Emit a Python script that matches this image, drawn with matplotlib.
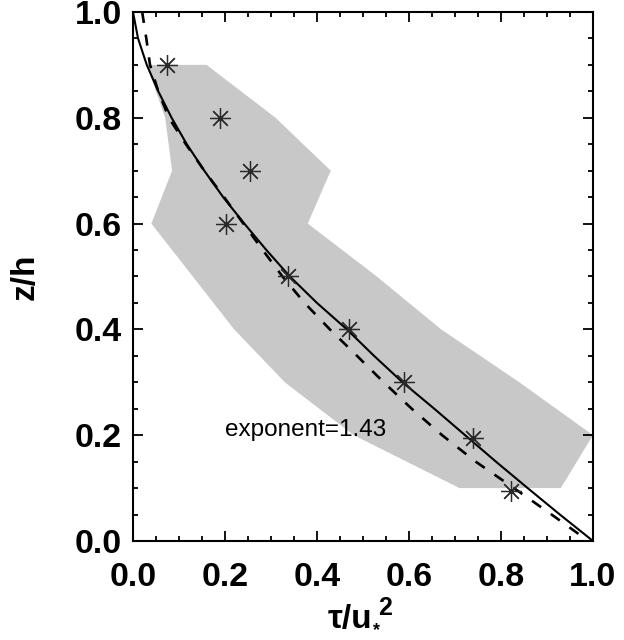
import matplotlib
matplotlib.use('Agg')
import matplotlib.pyplot as plt
from matplotlib.ticker import MultipleLocator, FormatStrFormatter

# measured stress profile (stars)
z_obs = [0.9, 0.8, 0.7, 0.6, 0.5, 0.4, 0.3, 0.195, 0.095]
tau_obs = [0.075, 0.19, 0.255, 0.203, 0.337, 0.47, 0.59, 0.74, 0.822]

# spread of the individual profiles at each level
band_z = [0.9, 0.8, 0.7, 0.6, 0.5, 0.4, 0.3, 0.2, 0.1]
band_lo = [0.03, 0.07, 0.085, 0.04, 0.13, 0.22, 0.33, 0.48, 0.71]
band_hi = [0.16, 0.31, 0.43, 0.38, 0.53, 0.67, 0.84, 1.0, 0.93]

# reference curve (solid)
solid_z = [1.0, 0.95, 0.9, 0.85, 0.8, 0.75, 0.7, 0.65, 0.6, 0.55, 0.5,
           0.45, 0.4, 0.35, 0.3, 0.25, 0.2, 0.15, 0.1, 0.05, 0.0]
solid_tau = [0.0, 0.011, 0.030, 0.055, 0.084, 0.117, 0.155, 0.196, 0.242, 0.290, 0.341,
             0.400, 0.465, 0.524, 0.586, 0.655, 0.722, 0.789, 0.858, 0.928, 1.0]

# fitted curve (dashed)
fit_z = [1.0, 0.95, 0.9, 0.85, 0.8, 0.75, 0.7, 0.65, 0.6, 0.55, 0.5,
         0.45, 0.4, 0.35, 0.3, 0.25, 0.2, 0.15, 0.1, 0.05, 0.0]
fit_tau = [0.02, 0.029, 0.037, 0.055, 0.078, 0.115, 0.155, 0.198, 0.24, 0.282, 0.325,
           0.373, 0.428, 0.487, 0.545, 0.606, 0.672, 0.745, 0.828, 0.91, 0.99]

exponent = 1.43

plt.rcParams['font.family'] = ['Liberation Sans', 'DejaVu Sans']
plt.rcParams['lines.scale_dashes'] = False

fig = plt.figure(figsize=(6.24, 6.40), dpi=100)
ax = fig.add_axes([0.2131, 0.1547, 0.7372, 0.8266])

ax.fill(band_lo + band_hi[::-1], band_z + band_z[::-1], color='#c8c8c8', lw=0, zorder=1)
ax.plot(solid_tau, solid_z, color='k', lw=1.5, zorder=3)
ax.plot(fit_tau, fit_z, color='k', lw=1.9, linestyle=(0, (8, 8.5)), zorder=3)
ax.plot(tau_obs, z_obs, ls='none', marker=(8, 2, 0), ms=15, mew=0.9,
        color='#2a2a2a', zorder=4)

ax.text(0.2, 0.21, 'exponent=%.2f' % exponent, fontsize=17.5, va='center', ha='left')

ax.set_xlim(0, 1)
ax.set_ylim(0, 1)
for axis in (ax.xaxis, ax.yaxis):
    axis.set_major_locator(MultipleLocator(0.2))
    axis.set_minor_locator(MultipleLocator(0.05))
    axis.set_major_formatter(FormatStrFormatter('%.1f'))

ax.tick_params(which='both', direction='in', top=True, right=True, width=1.3)
ax.tick_params(which='major', length=7, labelsize=24.5)
ax.tick_params(which='minor', length=3.5)
ax.tick_params(axis='x', pad=15)
ax.tick_params(axis='y', pad=8)
for lab in ax.get_xticklabels() + ax.get_yticklabels():
    lab.set_fontweight('bold')
for sp in ax.spines.values():
    sp.set_linewidth(1.5)

# x label built from pieces so the sub/superscript sizes can be set freely
ax.text(0.472, -0.164, 'τ/u', transform=ax.transAxes, fontsize=24, fontweight='bold',
        ha='center', va='baseline')
ax.text(0.533, -0.104, '2', transform=ax.transAxes, fontsize=18, fontweight='bold',
        ha='left', va='top')
ax.text(0.522, -0.185, '*', transform=ax.transAxes, fontsize=13, fontweight='bold',
        ha='left', va='bottom')

ax.set_ylabel('z/h', fontsize=24, fontweight='bold')
ax.yaxis.set_label_coords(-0.2, 0.5)

fig.savefig('out.png', dpi=100)
